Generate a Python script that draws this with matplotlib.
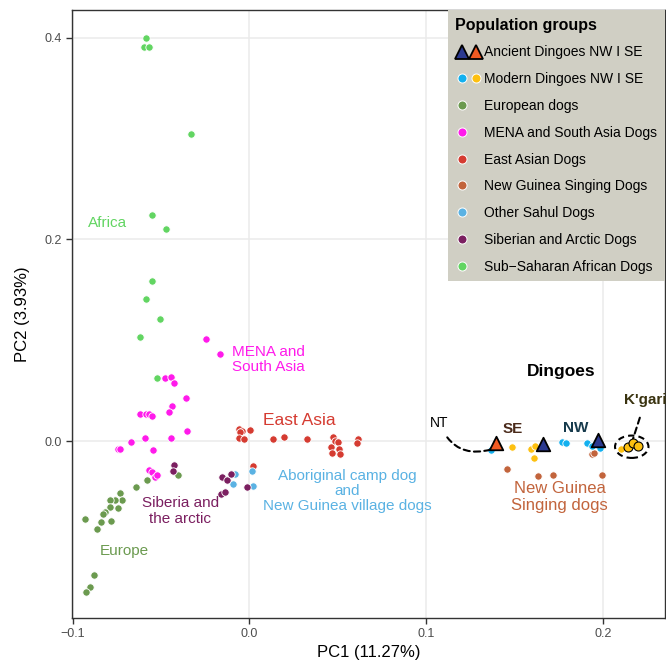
import numpy as np
import matplotlib
matplotlib.use("Agg")
import matplotlib.pyplot as plt
from matplotlib.lines import Line2D
from matplotlib.patches import Ellipse
from matplotlib.legend_handler import HandlerTuple

plt.rcParams['font.family'] = ['Liberation Sans', 'DejaVu Sans']

# PCA coordinates
africa_x = [-0.0587, -0.0595, -0.0565, -0.0329, -0.0553, -0.0473, -0.0548, -0.0586, -0.0503, -0.0620, -0.0525]
africa_y = [0.400, 0.391, 0.3906, 0.305, 0.224, 0.210, 0.159, 0.141, 0.121, 0.103, 0.0625]

europe_x = [-0.0406, -0.058, -0.0642, -0.0733, -0.0723, -0.0761, -0.0789, -0.0789, -0.0742, -0.0819,
            -0.083, -0.093, -0.084, -0.0781, -0.086, -0.0876, -0.0904, -0.0923]
europe_y = [-0.034, -0.039, -0.046, -0.0513, -0.0589, -0.0589, -0.0589, -0.0652, -0.0668, -0.0707,
            -0.0727, -0.0777, -0.0804, -0.079, -0.0873, -0.1326, -0.1445, -0.1495]

mena_x = [-0.0248, -0.0167, -0.048, -0.0446, -0.0429, -0.0356, -0.0439, -0.0453, -0.0616, -0.0587,
          -0.0569, -0.0553, -0.0354, -0.0442, -0.0591, -0.067, -0.0742, -0.073, -0.0544, -0.0565,
          -0.055, -0.0532, -0.0525]
mena_y = [0.101, 0.0863, 0.0622, 0.0635, 0.0578, 0.043, 0.0344, 0.0285, 0.0265, 0.0265,
          0.0265, 0.0245, 0.0102, 0.0033, 0.0027, -0.0007, -0.0076, -0.0076, -0.0089, -0.029,
          -0.031, -0.036, -0.0337]

east_x = [-0.006, -0.0043, -0.0054, 0.0005, -0.006, -0.0028, 0.0132, 0.0196, 0.0323, 0.0471,
          0.0485, 0.0498, 0.0462, 0.0505, 0.0466, 0.0513, 0.0613, 0.0607, 0.0021]
east_y = [0.0122, 0.0102, 0.0086, 0.0112, 0.0027, 0.0023, 0.0017, 0.0037, 0.002, 0.0037,
          0.0003, -0.0013, -0.0063, -0.0076, -0.0122, -0.0126, 0.002, -0.0017, -0.0245]

sahul_x = [-0.008, -0.0092, 0.0012, 0.0021]
sahul_y = [-0.033, -0.0424, -0.030, -0.0443]

siberia_x = [-0.0427, -0.0433, -0.0156, -0.0126, -0.0107, -0.0158, -0.0137, -0.0012]
siberia_y = [-0.0238, -0.0294, -0.036, -0.0387, -0.033, -0.0523, -0.0509, -0.0453]

ngsd_x = [0.1457, 0.1632, 0.1715, 0.1994, 0.1934, 0.1945]
ngsd_y = [-0.028, -0.0347, -0.0337, -0.0337, -0.0129, -0.0122]

modern_nw_x = [0.1368, 0.1764, 0.1787, 0.1907, 0.1936, 0.1979]
modern_nw_y = [-0.0089, -0.001, -0.0023, -0.0017, -0.005, -0.0066]

modern_se_x = [0.1482, 0.159, 0.1612, 0.161, 0.2103]
modern_se_y = [-0.006, -0.0079, -0.0047, -0.0166, -0.0079]

kgari_x = [0.2139, 0.2167, 0.2196]
kgari_y = [-0.0056, -0.0023, -0.0047]

ancient_nw_x = [0.1662, 0.1968]
ancient_nw_y = [-0.003, 0.001]
ancient_se_x = [0.1391]
ancient_se_y = [-0.0017]

# colours
c_africa = '#62d562'
c_europe = '#6b9a4f'
c_mena = '#ff1aeb'
c_east = '#d53b31'
c_ngsd = '#c2643c'
c_sahul = '#5ab2e3'
c_siberia = '#7b1f60'
c_mod_nw = '#12b0ef'
c_mod_se = '#fdc010'
c_anc_nw = '#2b3990'
c_anc_se = '#f15a22'

fig = plt.figure(figsize=(6.66, 6.60), dpi=100)
ax = fig.add_axes([72/666, 42/660, 593/666, 608/660])

pt = dict(s=28, edgecolors='white', linewidths=0.6, zorder=3)
ax.scatter(africa_x, africa_y, color=c_africa, **pt)
ax.scatter(europe_x, europe_y, color=c_europe, **pt)
ax.scatter(mena_x, mena_y, color=c_mena, **pt)
ax.scatter(east_x, east_y, color=c_east, **pt)
ax.scatter(ngsd_x, ngsd_y, color=c_ngsd, **pt)
ax.scatter(sahul_x, sahul_y, color=c_sahul, **pt)
ax.scatter(siberia_x, siberia_y, color=c_siberia, **pt)
ax.scatter(modern_nw_x, modern_nw_y, color=c_mod_nw, **pt)
ax.scatter(modern_se_x, modern_se_y, color=c_mod_se, **pt)
ax.scatter(kgari_x, kgari_y, s=42, color=c_mod_se, edgecolors='black', linewidths=0.8, zorder=4)
ax.scatter(ancient_nw_x, ancient_nw_y, marker='^', s=95, color=c_anc_nw, edgecolors='black', linewidths=1.3, zorder=5)
ax.scatter(ancient_se_x, ancient_se_y, marker='^', s=95, color=c_anc_se, edgecolors='black', linewidths=1.3, zorder=5)

# K'gari ellipse and leader lines
ax.add_patch(Ellipse((0.2161, -0.0057), 0.0189, 0.0222, fill=False, ec='black', lw=1.5, ls=(0, (3, 2)), zorder=4))
ax.annotate("K'gari", xy=(0.2168, 0.002), xytext=(0.2239, 0.0407), fontsize=11, fontweight='bold',
            color='#3a3310', ha='center', va='center',
            arrowprops=dict(arrowstyle='-', ls=(0, (3, 2)), lw=1.5, color='black', shrinkA=6, shrinkB=0))
ax.annotate('NT', xy=(0.1365, -0.0085), xytext=(0.1075, 0.0179), fontsize=10, color='black',
            ha='center', va='center',
            arrowprops=dict(arrowstyle='-', ls=(0, (3, 2)), lw=1.5, color='black', shrinkA=4, shrinkB=0,
                            connectionstyle='arc3,rad=0.45'))

# group labels
ax.text(-0.091, 0.2166, 'Africa', color=c_africa, fontsize=11, ha='left', va='center')
ax.text(-0.0096, 0.0809, 'MENA and\nSouth Asia', color=c_mena, fontsize=11, ha='left', va='center', linespacing=1.15)
ax.text(0.0074, 0.0201, 'East Asia', color=c_east, fontsize=12.5, ha='left', va='center')
ax.text(-0.039, -0.0697, 'Siberia and\nthe arctic', color=c_siberia, fontsize=11, ha='center', va='center', linespacing=1.15)
ax.text(-0.0847, -0.109, 'Europe', color=c_europe, fontsize=11, ha='left', va='center')
ax.text(0.0555, -0.0496, 'Aboriginal camp dog\nand\nNew Guinea village dogs', color=c_sahul, fontsize=11,
        ha='center', va='center', linespacing=1.12)
ax.text(0.1753, -0.0556, 'New Guinea\nSinging dogs', color=c_ngsd, fontsize=12, ha='center', va='center', linespacing=1.1)
ax.text(0.1764, 0.0688, 'Dingoes', color='black', fontsize=12.5, fontweight='bold', ha='center', va='center')
ax.text(0.1487, 0.0119, 'SE', color='#4a2a1a', fontsize=11, fontweight='bold', ha='center', va='center')
ax.text(0.1843, 0.0129, 'NW', color='#163a4c', fontsize=11, fontweight='bold', ha='center', va='center')

ax.set_xlim(-0.1003, 0.2349)
ax.set_ylim(-0.1756, 0.4276)
ax.set_xticks([-0.1, 0.0, 0.1, 0.2])
ax.set_xticklabels(['\u22120.1', '0.0', '0.1', '0.2'])
ax.set_yticks([0.0, 0.2, 0.4])
ax.set_yticklabels(['0.0', '0.2', '0.4'])
ax.grid(True, color='#ebebeb', lw=1.1, zorder=0)
ax.set_axisbelow(True)
for sp in ax.spines.values():
    sp.set_color('#333333')
    sp.set_linewidth(1.0)
ax.tick_params(direction='out', length=4, width=1, color='#333333', labelcolor='#4d4d4d', labelsize=9)
ax.set_xlabel('PC1 (11.27%)', fontsize=12, labelpad=3)
ax.set_ylabel('PC2 (3.93%)', fontsize=12, labelpad=10)

# legend
def dot(c, mk='o', ms=6.5, ec='white', mew=0.7):
    return Line2D([], [], ls='', marker=mk, ms=ms, mfc=c, mec=ec, mew=mew)

blank = Line2D([], [], ls='', marker='')
handles = [
    (dot(c_anc_nw, '^', 10, 'black', 1.3), dot(c_anc_se, '^', 10, 'black', 1.3)),
    (dot(c_mod_nw), dot(c_mod_se)),
    (dot(c_europe), blank),
    (dot(c_mena), blank),
    (dot(c_east), blank),
    (dot(c_ngsd), blank),
    (dot(c_sahul), blank),
    (dot(c_siberia), blank),
    (dot(c_africa), blank),
]
labels = ['Ancient Dingoes NW I SE', 'Modern Dingoes NW I SE', 'European dogs',
          'MENA and South Asia Dogs', 'East Asian Dogs', 'New Guinea Singing Dogs',
          'Other Sahul Dogs', 'Siberian and Arctic Dogs', 'Sub\u2212Saharan African Dogs']
leg = ax.legend(handles, labels, handler_map={tuple: HandlerTuple(ndivide=None, pad=0.1)},
                title='Population groups', title_fontproperties={'weight': 'bold', 'size': 11.5},
                loc='upper right', bbox_to_anchor=(1.0, 1.0), borderaxespad=0.0,
                fontsize=10, alignment='left', frameon=True, fancybox=False,
                facecolor='#d0cfc4', edgecolor='none', framealpha=1.0,
                handlelength=2.0, handletextpad=0.1, labelspacing=0.92, borderpad=0.55)
leg.set_zorder(10)

fig.savefig('out.png', dpi=100)
